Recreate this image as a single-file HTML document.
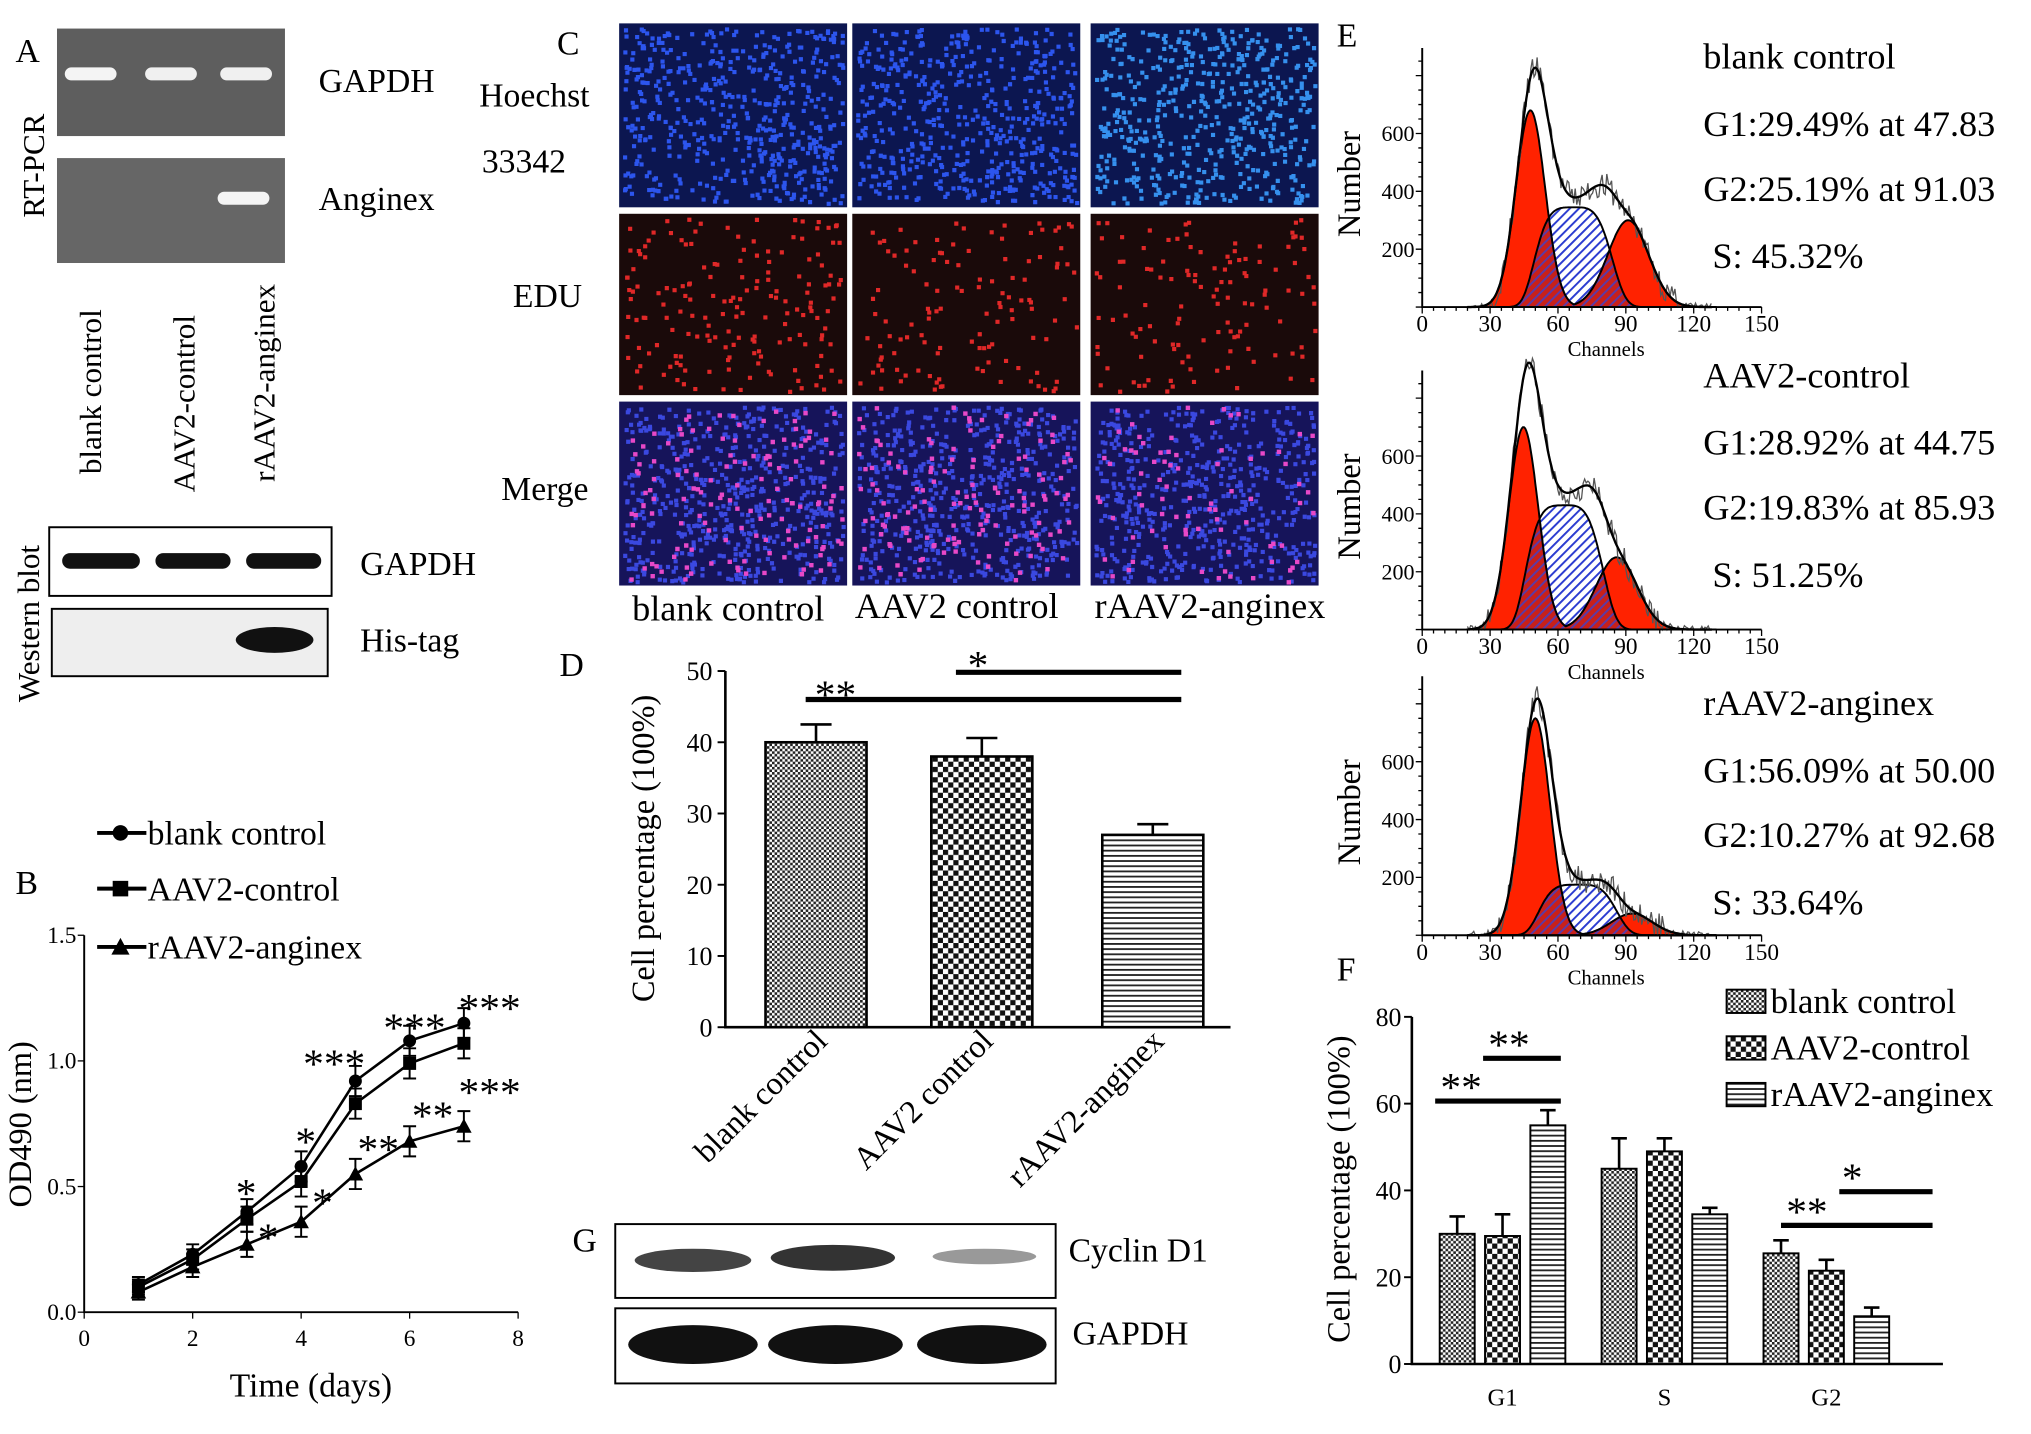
<!DOCTYPE html>
<html><head><meta charset="utf-8"><style>
html,body{margin:0;padding:0;background:#fff}
svg{display:block;font-family:"Liberation Serif",serif}
</style></head><body>
<svg id="fig" width="2031" height="1434" viewBox="0 0 1568 1107" xmlns="http://www.w3.org/2000/svg">
<defs>
<pattern id="pDense" width="4" height="4" patternUnits="userSpaceOnUse"><rect width="4" height="4" fill="#fff"/><rect width="2" height="2" fill="#222"/><rect x="2" y="2" width="2" height="2" fill="#222"/></pattern>
<pattern id="pCheck" width="8" height="8" patternUnits="userSpaceOnUse"><rect width="8" height="8" fill="#fff"/><rect width="4" height="4" fill="#111"/><rect x="4" y="4" width="4" height="4" fill="#111"/></pattern>
<pattern id="pLines" width="4" height="4" patternUnits="userSpaceOnUse"><rect width="4" height="4" fill="#fff"/><rect y="0" width="4" height="1.4" fill="#222"/></pattern>
<pattern id="pHatch" width="5" height="5" patternUnits="userSpaceOnUse" patternTransform="rotate(45)"><rect width="5" height="5" fill="#fff"/><rect width="1.5" height="5" fill="#2a3bd0"/></pattern>
<pattern id="pHatchR" width="5" height="5" patternUnits="userSpaceOnUse" patternTransform="rotate(45)"><rect width="5" height="5" fill="#c8201a"/><rect width="1.5" height="5" fill="#5a3aa8"/></pattern>
</defs>

<!-- Panel A -->
<g>
<text x="12" y="48" font-size="26">A</text>
<text transform="translate(34,168) rotate(-90)" font-size="24">RT-PCR</text>
<rect x="44" y="22" width="176" height="83" fill="#5e5e5e"/>
<rect x="50" y="52" width="40" height="10" rx="5" fill="#f4f4f4"/>
<rect x="112" y="52" width="40" height="10" rx="5" fill="#f0f0f0"/>
<rect x="170" y="52" width="40" height="10" rx="5" fill="#f0f0f0"/>
<rect x="44" y="122" width="176" height="81" fill="#666"/>
<rect x="168" y="148" width="40" height="10" rx="5" fill="#f4f4f4"/>
<text x="246" y="71" font-size="26">GAPDH</text>
<text x="246" y="162" font-size="26">Anginex</text>
<text transform="translate(78,366) rotate(-90)" font-size="24">blank control</text>
<text transform="translate(150,380) rotate(-90)" font-size="24">AAV2-control</text>
<text transform="translate(212,372) rotate(-90)" font-size="24">rAAV2-anginex</text>
<text transform="translate(30,542) rotate(-90)" font-size="24">Western blot</text>
<rect x="38" y="407" width="218" height="53" fill="#fff" stroke="#000" stroke-width="1.5"/>
<rect x="48" y="427" width="60" height="12" rx="6" fill="#111"/>
<rect x="120" y="427" width="58" height="12" rx="6" fill="#111"/>
<rect x="190" y="427" width="58" height="12" rx="6" fill="#111"/>
<rect x="40" y="470" width="213" height="52" fill="#eee" stroke="#000" stroke-width="1.5"/>
<ellipse cx="212" cy="494" rx="30" ry="10" fill="#111"/>
<text x="278" y="444" font-size="26">GAPDH</text>
<text x="278" y="503" font-size="26">His-tag</text>
</g>

<!-- Panel C -->
<g id="panelC">
<text x="430" y="42" font-size="26">C</text>
<text x="370" y="82" font-size="26">Hoechst</text>
<text x="372" y="133" font-size="26">33342</text>
<text x="396" y="237" font-size="26">EDU</text>
<text x="387" y="386" font-size="26">Merge</text>
<text x="488" y="479" font-size="28">blank control</text>
<text x="660" y="477" font-size="28">AAV2 control</text>
<text x="845" y="477" font-size="28">rAAV2-anginex</text>
</g>

<!-- Panel D -->
<g id="panelD">
<text x="432" y="522" font-size="26">D</text>
<text transform="translate(505,655) rotate(-90)" font-size="25" text-anchor="middle">Cell percentage (100%)</text>
</g>

<!-- Panel B -->
<g id="panelB">
<text x="12" y="690" font-size="26">B</text>
<text transform="translate(24,868) rotate(-90)" font-size="25" text-anchor="middle">OD490 (nm)</text>
<text x="240" y="1078" font-size="26" text-anchor="middle">Time  (days)</text>
</g>

<!-- Panel E -->
<g id="panelE">
<text x="1032" y="36" font-size="26">E</text>
</g>

<!-- Panel F -->
<g id="panelF">
<text x="1032" y="757" font-size="26">F</text>
<text transform="translate(1042,918) rotate(-90)" font-size="25" text-anchor="middle">Cell percentage (100%)</text>
</g>

<!-- Panel G -->
<g>
<text x="442" y="966" font-size="26">G</text>
<rect x="475" y="945" width="340" height="57" fill="#fff" stroke="#000" stroke-width="1.5"/>
<ellipse cx="535" cy="973" rx="45" ry="9" fill="#444"/>
<ellipse cx="643" cy="971" rx="48" ry="10" fill="#333"/>
<ellipse cx="760" cy="970" rx="40" ry="6" fill="#999"/>
<rect x="475" y="1010" width="340" height="58" fill="#fff" stroke="#000" stroke-width="1.5"/>
<ellipse cx="535" cy="1038" rx="50" ry="15" fill="#111"/>
<ellipse cx="645" cy="1038" rx="52" ry="15" fill="#111"/>
<ellipse cx="758" cy="1038" rx="50" ry="15" fill="#111"/>
<text x="825" y="974" font-size="26">Cyclin D1</text>
<text x="828" y="1038" font-size="26">GAPDH</text>
</g>
</svg>
<script>
// ===== Data =====
// Panel D
const dCategories = ["blank control","AAV2 control","rAAV2-anginex"];
const dValues = [40, 38, 27];
const dErrors = [2.5, 2.6, 1.5];
const dTicks = [0,10,20,30,40,50];
// Panel B
const bDays = [1,2,3,4,5,6,7];
const bSeriesNames = ["blank control","AAV2-control","rAAV2-anginex"];
const bBlank = [0.11,0.23,0.40,0.58,0.92,1.08,1.15];
const bAAV2 = [0.10,0.21,0.37,0.52,0.83,0.99,1.07];
const bRAAV2 = [0.08,0.18,0.27,0.36,0.55,0.68,0.74];
const bErr = [0.03,0.04,0.05,0.06,0.06,0.06,0.06];
const bXTicks = [0,2,4,6,8];
const bYTicks = [0.0,0.5,1.0,1.5];
// Panel E
const eTitles = ["blank control","AAV2-control","rAAV2-anginex"];
const eG1Text = ["G1:29.49% at 47.83","G1:28.92% at 44.75","G1:56.09% at 50.00"];
const eG2Text = ["G2:25.19% at 91.03","G2:19.83% at 85.93","G2:10.27% at 92.68"];
const eSText = ["S:  45.32%","S:  51.25%","S:  33.64%"];
const eG1Mean = [47.83,44.75,50.00];
const eG2Mean = [91.03,85.93,92.68];
const eG1Height = [680,700,750];
const eG2Height = [300,250,75];
const eSHeight = [345,430,175];
const eXTicks = [0,30,60,90,120,150];
const eYTicks = [200,400,600];
// Panel F
const fGroups = ["G1","S","G2"];
const fSeries = ["blank control","AAV2-control","rAAV2-anginex"];
const fBlank = [30,45,25.5];
const fAAV2 = [29.5,49,21.5];
const fRAAV2 = [55,34.5,11];
const fBlankErr = [4,7,3];
const fAAV2Err = [5,3,2.5];
const fRAAV2Err = [3.5,1.5,2];
const fTicks = [0,20,40,60,80];

const NS="http://www.w3.org/2000/svg";
function mk(parent,tag,attrs,text){const e=document.createElementNS(NS,tag);for(const k in attrs)e.setAttribute(k,attrs[k]);if(text!==undefined)e.textContent=text;parent.appendChild(e);return e;}

// ===== Panel C microscopy =====
(function(){
  const g=document.getElementById('panelC');
  let seed=7;function rnd(){seed=(seed*16807)%2147483647;return seed/2147483647;}
  const cols=[478,658,842], rows=[18,165,310], w=176, hs=[142,140,142];
  const bgs=["#0c1650","#1a0a0a","#16145a"];
  for(let r=0;r<3;r++)for(let c=0;c<3;c++){
    const x=cols[c],y=rows[r],h=hs[r];
    const im=mk(g,'rect',{x:x,y:y,width:w,height:h,fill:bgs[r]});
    
    
    const n=r===1?(c===0?170:120):520;
    let path="";
    for(let i=0;i<n;i++){const px=x+3+rnd()*(w-7),py=y+3+rnd()*(h-7);path+=`M${px.toFixed(1)},${py.toFixed(1)}h3.2v3.2h-3.2z`;}
    const col=r===0?(c===2?"#3590ee":"#2c55ee"):r===1?"#e02828":"#3a48e0";
    const p=mk(g,'path',{d:path,fill:col});
    
    
    if(r===2){let p2="";for(let i=0;i<(c===2?80:140);i++){const px=x+3+rnd()*(w-7),py=y+3+rnd()*(h-7);p2+=`M${px.toFixed(1)},${py.toFixed(1)}h3.4v3.4h-3.4z`;}
      const q=mk(g,'path',{d:p2,fill:"#e848c8"});
      
      }
  }
})();

// ===== Panel D =====
(function(){
  const g=document.getElementById('panelD');
  const x0=560,yBase=793,yTop=518,max=50;
  const y=v=>yBase-(v/max)*(yBase-yTop);
  const centers=[630,758,890],bw=78,fills=["url(#pDense)","url(#pCheck)","url(#pLines)"];
  const ax=mk(g,'path',{d:`M${x0},${yTop}V${yBase}H950`,stroke:"#000","stroke-width":2,fill:"none"});
  
  
  dTicks.forEach(t=>{
    const tk=mk(g,'line',{x1:x0-6,x2:x0,y1:y(t),y2:y(t),stroke:"#000","stroke-width":1.5});
    
    
    const tl=mk(g,'text',{x:x0-10,y:y(t)+7,"font-size":20,"text-anchor":"end"},String(t));
    
    
  });
  dValues.forEach((v,i)=>{
    const cx=centers[i];
    const eb=mk(g,'path',{d:`M${cx},${y(v)}V${y(v+dErrors[i])}M${cx-12},${y(v+dErrors[i])}H${cx+12}`,stroke:"#000","stroke-width":2,fill:"none"});
    
    
    const b=mk(g,'rect',{x:cx-bw/2,y:y(v),width:bw,height:yBase-y(v),fill:fills[i],stroke:"#000","stroke-width":2});
    
    
    const l=mk(g,'text',{transform:`translate(${cx+10},${805}) rotate(-45)`,"font-size":25,"text-anchor":"end"},dCategories[i]);
    
    
  });
  const s1=mk(g,'line',{x1:622,x2:912,y1:540,y2:540,stroke:"#000","stroke-width":4});
  
  
  const s2=mk(g,'line',{x1:738,x2:912,y1:519,y2:519,stroke:"#000","stroke-width":4});
  
  
  const a1=mk(g,'text',{x:645,y:547,"font-size":32,"text-anchor":"middle"},"**");
  
  
  const a2=mk(g,'text',{x:755,y:524,"font-size":32,"text-anchor":"middle"},"*");
  
  
})();

// ===== Panel B =====
(function(){
  const g=document.getElementById('panelB');
  const x0=65,x1=400,yB=1013,yT=722;
  const X=d=>x0+d/8*(x1-x0), Y=v=>yB-v/1.5*(yB-yT);
  const ax=mk(g,'path',{d:`M${x0},${yT}V${yB}H${x1}`,stroke:"#000","stroke-width":1.5,fill:"none"});
  
  
  bXTicks.forEach(t=>{
    const tk=mk(g,'line',{x1:X(t),x2:X(t),y1:yB,y2:yB+5,stroke:"#000"});
    
    
    const tl=mk(g,'text',{x:X(t),y:yB+26,"font-size":18,"text-anchor":"middle"},String(t));
    
    
  });
  bYTicks.forEach(t=>{
    const tk=mk(g,'line',{x1:x0-5,x2:x0,y1:Y(t),y2:Y(t),stroke:"#000"});
    
    
    const tl=mk(g,'text',{x:x0-6,y:Y(t)+6,"font-size":18,"text-anchor":"end"},t.toFixed(1));
    
    
  });
  const series=[bBlank,bAAV2,bRAAV2],markers=["circle","square","triangle"];
  function marker(type,cx,cy,s){
    if(type==="circle")return mk(g,'circle',{cx:cx,cy:cy,r:s,fill:"#000"});
    if(type==="square")return mk(g,'rect',{x:cx-s,y:cy-s,width:2*s,height:2*s,fill:"#000"});
    return mk(g,'path',{d:`M${cx},${cy-s-1}L${cx+s+1},${cy+s}L${cx-s-1},${cy+s}Z`,fill:"#000"});
  }
  series.forEach((vals,si)=>{
    const d=vals.map((v,i)=>(i?"L":"M")+X(bDays[i])+","+Y(v)).join("");
    const ln=mk(g,'path',{d:d,stroke:"#000","stroke-width":2,fill:"none"});
    
    
    vals.forEach((v,i)=>{
      const e=mk(g,'path',{d:`M${X(bDays[i])},${Y(v-bErr[i])}V${Y(v+bErr[i])}M${X(bDays[i])-5},${Y(v+bErr[i])}h10M${X(bDays[i])-5},${Y(v-bErr[i])}h10`,stroke:"#000","stroke-width":1.5,fill:"none"});
      
      
      const m=marker(markers[si],X(bDays[i]),Y(v),5);
      
      
    });
    const ly=[643,686,731][si];
    const ll=mk(g,'line',{x1:75,x2:113,y1:ly,y2:ly,stroke:"#000","stroke-width":3});
    
    
    const lm=marker(markers[si],93,ly,6);
    
    
    const lt=mk(g,'text',{x:114,y:ly+9,"font-size":26},bSeriesNames[si]);
    
    
  });
  const stars=[["*",190,918],["*",207,952],["*",236,878],["*",249,925],["***",258,818],["**",292,884],["***",320,790],["**",334,858],["***",378,775],["***",378,840]];
  stars.forEach(s=>{const t=mk(g,'text',{x:s[1],y:s[2]+14,"font-size":32,"text-anchor":"middle"},s[0]);
    
    });
})();

// ===== Panel E =====
(function(){
  const g=document.getElementById('panelE');
  const bases=[237,486,722],x0=1098,pxPerCh=(1360-1098)/150,pxPerCount=134/600;
  const X=c=>x0+c*pxPerCh;
  let seed=3;function rnd(){seed=(seed*16807)%2147483647;return seed/2147483647-0.5;}
  for(let p=0;p<3;p++){
    const yb=bases[p],Y=n=>yb-n*pxPerCount;
    const g1=c=>eG1Height[p]*Math.exp(-Math.pow((c-eG1Mean[p])/6.5,2)/2);
    const g2=c=>eG2Height[p]*Math.exp(-Math.pow((c-eG2Mean[p])/9,2)/2);
    const sm=(eG1Mean[p]+eG2Mean[p])/2-3;
    const s=c=>eSHeight[p]*Math.exp(-Math.pow((c-sm)/16,4)/2)*(1/(1+Math.exp(-(c-eG1Mean[p]+4)/3)))*(1/(1+Math.exp((c-eG2Mean[p]-12)/3)));
    function area(f){let d=`M${X(20)},${yb}`;for(let c=20;c<=130;c+=0.5)d+=`L${X(c).toFixed(1)},${Y(f(c)).toFixed(1)}`;return d+`L${X(130)},${yb}Z`;}
    function line(f,noise){let d="";for(let c=20;c<=128;c+=noise?0.7:0.5){let v=f(c);if(noise)v+=rnd()*90*(v>20?1:0.3);d+=(d?"L":"M")+X(c).toFixed(1)+","+Y(Math.max(0,v)).toFixed(1);}return d;}
    const total=c=>g1(c)+g2(c)+s(c)*1.05;
    const parts=[[area(s),"url(#pHatch)","e-s-phase"],[area(g1),"#ff2200","e-g1-peak"],[area(g2),"#ff2200","e-g2-peak"],[area(c=>Math.min(s(c),Math.max(g1(c),g2(c)))),"url(#pHatchR)","e-overlap"]];
    parts.forEach(pt=>{const e=mk(g,'path',{d:pt[0],fill:pt[1],stroke:"#000","stroke-width":1.5});
      
      });
    const raw=mk(g,'path',{d:line(total,true),fill:"none",stroke:"#555","stroke-width":1});
    
    
    const fit=mk(g,'path',{d:line(total,false),fill:"none",stroke:"#000","stroke-width":1.8});
    
    
    const ax=mk(g,'path',{d:`M${x0},${yb-200}V${yb}H1360`,stroke:"#000","stroke-width":1.5,fill:"none"});
    
    
    let mt="";for(let c=0;c<=150;c+=5)mt+=`M${X(c)},${yb}v${c%30===0?5:3}`;for(let n=0;n<=850;n+=50){if(Y(n)<yb-200)break;mt+=`M${x0},${Y(n)}h${n%200===0?-5:-3}`;}
    const tk=mk(g,'path',{d:mt,stroke:"#000","stroke-width":1,fill:"none"});
    
    
    eXTicks.forEach(t=>{const l=mk(g,'text',{x:X(t),y:yb+19,"font-size":18,"text-anchor":"middle"},String(t));
      
      });
    eYTicks.forEach(t=>{const l=mk(g,'text',{x:x0-6,y:Y(t)+6,"font-size":17,"text-anchor":"end"},String(t));
      
      });
    const ch=mk(g,'text',{x:1240,y:yb+38,"font-size":16,"text-anchor":"middle"},"Channels");
    
    
    const yl=mk(g,'text',{transform:`translate(1050,${yb-95}) rotate(-90)`,"font-size":25,"text-anchor":"middle"},"Number");
    
    
    const tops=[53,299,552][p];
    const tt=mk(g,'text',{x:1315,y:tops,"font-size":28},eTitles[p]);
    
    
    const t1=mk(g,'text',{x:1315,y:tops+52,"font-size":28},eG1Text[p]);
    
    
    const t2=mk(g,'text',{x:1315,y:tops+102,"font-size":28},eG2Text[p]);
    
    
    const t3=mk(g,'text',{x:1322,y:tops+154,"font-size":28},eSText[p]);
    
    
  }
})();

// ===== Panel F =====
(function(){
  const g=document.getElementById('panelF');
  const x0=1090,yB=1053,yT=785,max=80;
  const Y=v=>yB-v/max*(yB-yT);
  const centers=[1160,1285,1410],off=[-35,0,35],bw=27,fills=["url(#pDense)","url(#pCheck)","url(#pLines)"];
  const vals=[fBlank,fAAV2,fRAAV2],errs=[fBlankErr,fAAV2Err,fRAAV2Err];
  const ax=mk(g,'path',{d:`M${x0},${yT}V${yB}H1500`,stroke:"#000","stroke-width":2,fill:"none"});
  
  
  fTicks.forEach(t=>{
    const tk=mk(g,'line',{x1:x0-6,x2:x0,y1:Y(t),y2:Y(t),stroke:"#000","stroke-width":1.5});
    
    
    const tl=mk(g,'text',{x:x0-8,y:Y(t)+7,"font-size":20,"text-anchor":"end"},String(t));
    
    
  });
  fGroups.forEach((gname,gi)=>{
    const gl=mk(g,'text',{x:centers[gi],y:1085,"font-size":19,"text-anchor":"middle"},gname);
    
    
    for(let s=0;s<3;s++){
      const v=vals[s][gi],e=errs[s][gi],cx=centers[gi]+off[s];
      const eb=mk(g,'path',{d:`M${cx},${Y(v)}V${Y(v+e)}M${cx-6},${Y(v+e)}H${cx+6}`,stroke:"#000","stroke-width":2,fill:"none"});
      
      
      const b=mk(g,'rect',{x:cx-bw/2,y:Y(v),width:bw,height:yB-Y(v),fill:fills[s],stroke:"#000","stroke-width":1.5});
      
      
    }
  });
  fSeries.forEach((n,i)=>{
    const ly=[774,810,846][i];
    const r=mk(g,'rect',{x:1333,y:ly-10,width:30,height:18,fill:fills[i],stroke:"#000","stroke-width":1.5});
    
    
    const t=mk(g,'text',{x:1367,y:ly+8,"font-size":27},n);
    
    
  });
  const sig=[[1108,1205,850,"**",1128],[1145,1205,817,"**",1165],[1375,1492,946,"**",1395],[1420,1492,920,"*",1430]];
  sig.forEach(s=>{
    const l=mk(g,'line',{x1:s[0],x2:s[1],y1:s[2],y2:s[2],stroke:"#000","stroke-width":4});
    
    
    const t=mk(g,'text',{x:s[4],y:s[2],"font-size":32,"text-anchor":"middle"},s[3]);
    
    
  });
})();
</script>
</body></html>
